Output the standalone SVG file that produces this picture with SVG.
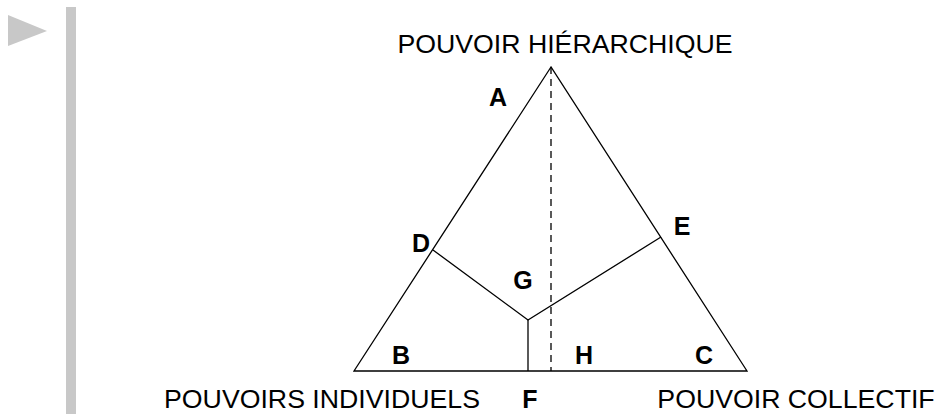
<svg xmlns="http://www.w3.org/2000/svg" width="943" height="414" viewBox="0 0 943 414">
  <style>
    .title { font-family: "Liberation Sans", Arial, sans-serif; font-size: 26.7px; fill: #000; text-anchor: middle; }
    .zone { font-family: "Liberation Sans", Arial, sans-serif; font-size: 25px; font-weight: bold; fill: #000; text-anchor: middle; }
    .edge { fill: none; stroke: #000; stroke-width: 1.3; }
    .axis { fill: none; stroke: #000; stroke-width: 1.3; stroke-dasharray: 7 5; }
    .deco { fill: #c8c8c8; }
  </style>

  <!-- slide bullet and margin bar -->
  <polygon class="deco" points="8,15 47,31 8,46"/>
  <rect class="deco" x="66" y="7" width="10" height="407"/>

  <!-- outer triangle -->
  <g id="triangle">
    <polygon class="edge" points="551,67 354,371 747,371"/>
  </g>

  <!-- internal dividing lines -->
  <g id="connectors">
    <line class="axis" x1="551" y1="67" x2="551" y2="371"/>
    <polyline class="edge" points="433,250 528,320 661,237"/>
    <line class="edge" x1="528" y1="320" x2="528" y2="371"/>
  </g>

  <!-- pole captions -->
  <g id="pole-hierarchique"><text class="title" x="565" y="53">POUVOIR HIÉRARCHIQUE</text></g>
  <g id="pole-individuels"><text class="title" x="322" y="408">POUVOIRS INDIVIDUELS</text></g>
  <g id="pole-collectif"><text class="title" x="796" y="408">POUVOIR COLLECTIF</text></g>

  <!-- zone letters -->
  <g id="zone-A"><text class="zone" x="498" y="106">A</text></g>
  <g id="zone-B"><text class="zone" x="401" y="364">B</text></g>
  <g id="zone-C"><text class="zone" x="704" y="364">C</text></g>
  <g id="zone-D"><text class="zone" x="421" y="252">D</text></g>
  <g id="zone-E"><text class="zone" x="682" y="235">E</text></g>
  <g id="zone-F"><text class="zone" x="530" y="408">F</text></g>
  <g id="zone-G"><text class="zone" x="523" y="289">G</text></g>
  <g id="zone-H"><text class="zone" x="584" y="364">H</text></g>
</svg>
